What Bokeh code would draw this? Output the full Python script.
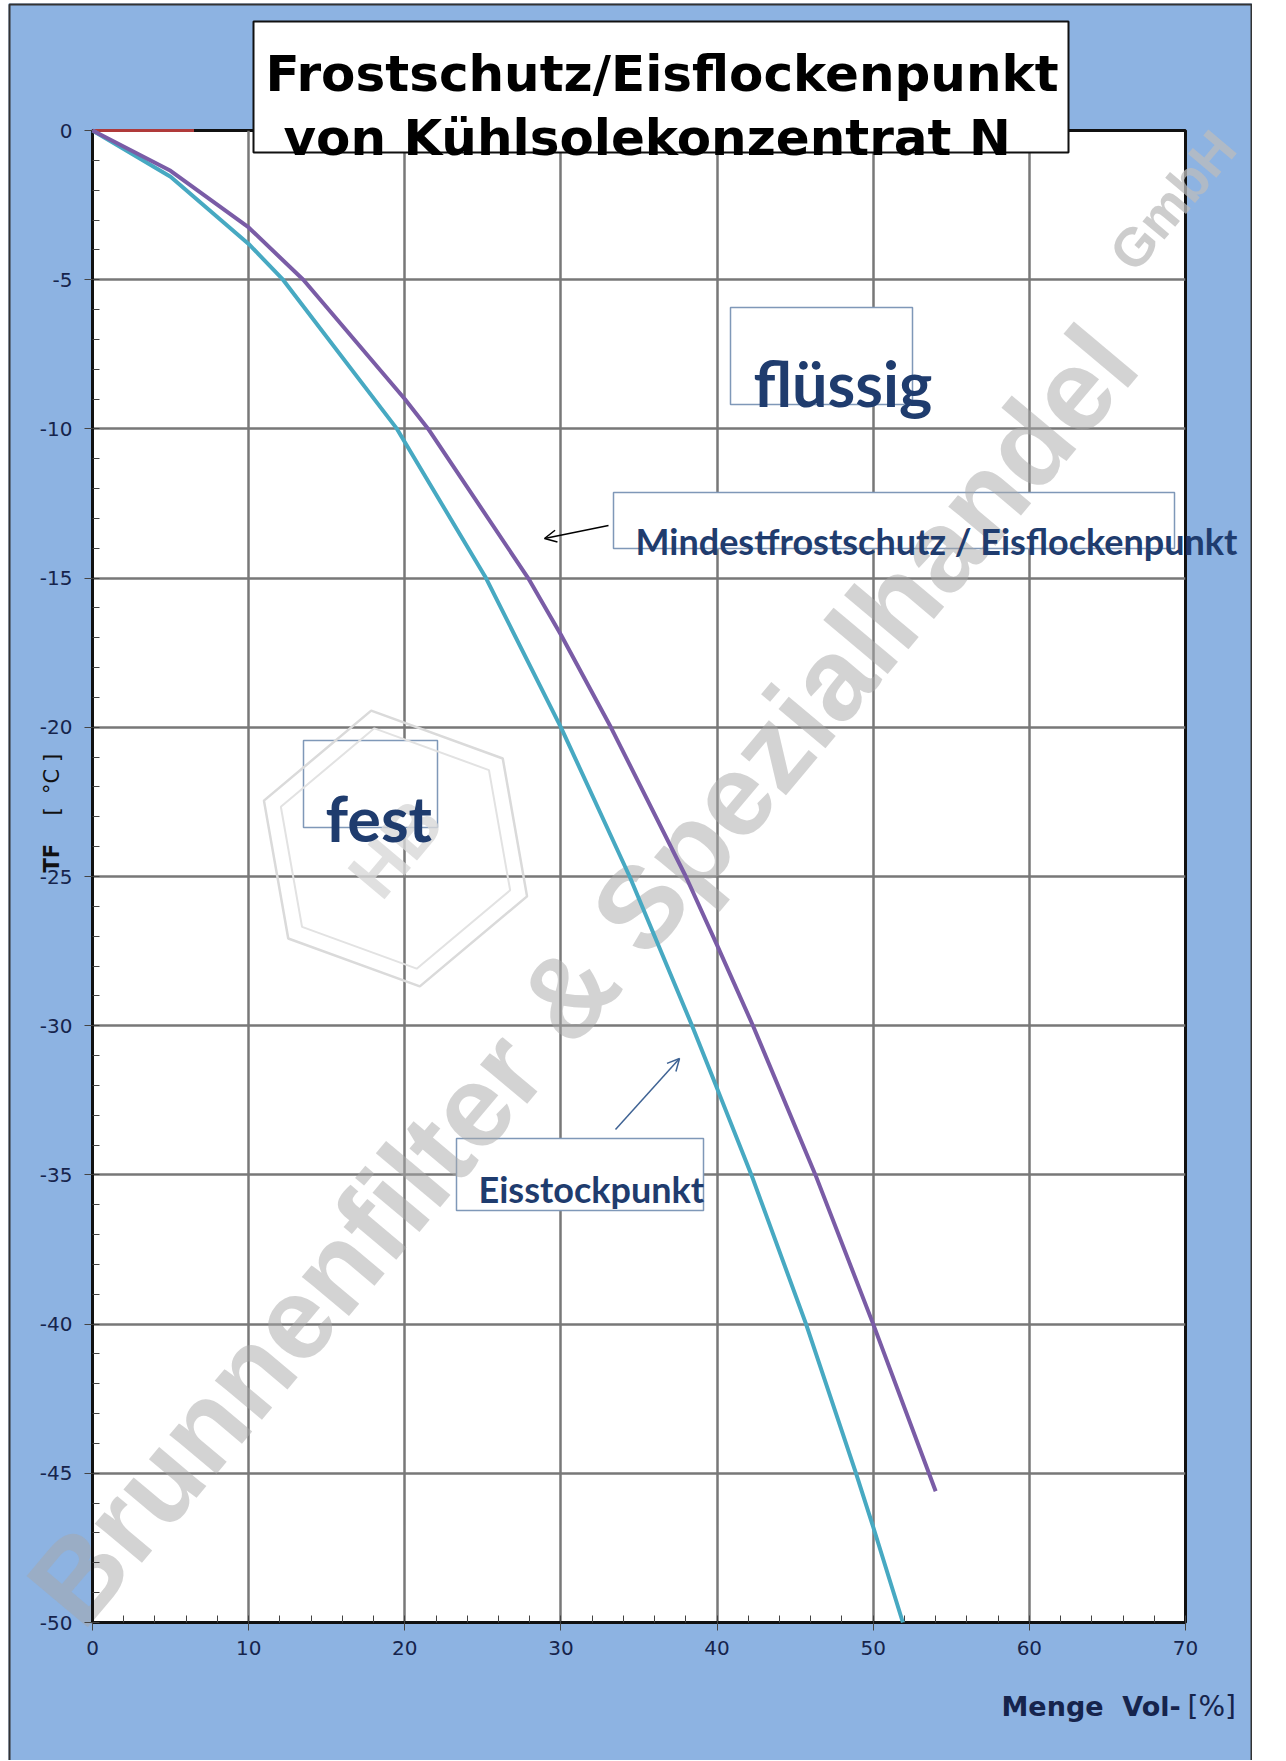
import math
from bokeh.plotting import figure
from bokeh.models import Range1d, SingleIntervalTicker, Arrow, OpenHead, NumeralTickFormatter
from bokeh.core.properties import value
from bokeh.embed import file_html
from bokeh.resources import INLINE

# ---------------- data ----------------
conc_mindest = [0, 5, 10, 13.5, 20, 21.5, 27.9, 30, 33.2, 38.0, 40, 42.3, 46.3, 50, 54]
temp_mindest = [0, -1.35, -3.25, -5, -9.0, -10, -15, -16.9, -20, -25, -27.3, -30, -35, -40, -45.6]
conc_eisstock = [0, 5, 10, 12.2, 19.5, 25.2, 30, 34.4, 38.4, 40, 42.2, 45.7, 48.9, 50, 51.9]
temp_eisstock = [0, -1.55, -3.8, -5, -10, -15, -20, -25, -30, -32.1, -35, -40, -45, -46.8, -50]
conc_red = [0, 6.5]
temp_red = [0, 0]

x_tick_interval = 10
y_tick_interval = 5

# ---------------- layout (page pixels) ----------------
W, H = 1252, 1760
FRAME_L, FRAME_R, FRAME_T, FRAME_B = 92, 1185, 130, 1622
ML, MR, MT, MB = FRAME_L, W - FRAME_R, FRAME_T, H - FRAME_B
XMIN, XMAX, YMIN, YMAX = 0, 70, -50, 0


def px(xp):
    return XMIN + (xp - FRAME_L) * (XMAX - XMIN) / (FRAME_R - FRAME_L)


def py(yp):
    return YMAX - (yp - FRAME_T) * (YMAX - YMIN) / (FRAME_B - FRAME_T)


BG = "#8db3e2"
NAVY = "#1f3c6e"
TICKC = "#16244c"

p = figure(width=W, height=H, output_backend="svg", toolbar_location=None,
           x_range=Range1d(XMIN, XMAX), y_range=Range1d(YMIN, YMAX),
           min_border_left=ML, min_border_right=MR, min_border_top=MT,
           min_border_bottom=MB, background_fill_color="white",
           border_fill_color=BG)
p.outline_line_color = "#111111"
p.outline_line_width = 3

for ax in (p.xaxis[0], p.yaxis[0]):
    ax.axis_line_color = "#111111"
    ax.axis_line_width = 3
    ax.major_tick_out = 8
    ax.major_tick_in = 0
    ax.minor_tick_in = 7
    ax.minor_tick_out = 0
    ax.major_tick_line_color = "#444444"
    ax.minor_tick_line_color = "#444444"
    ax.major_label_text_font = "DejaVu Sans"
    ax.major_label_text_font_size = "20px"
    ax.major_label_text_color = TICKC

p.xaxis.ticker = SingleIntervalTicker(interval=x_tick_interval, num_minor_ticks=5)
p.yaxis.ticker = SingleIntervalTicker(interval=y_tick_interval, num_minor_ticks=5)
p.xaxis.formatter = NumeralTickFormatter(format="0")
p.yaxis.formatter = NumeralTickFormatter(format="0")
p.xaxis.major_label_standoff = 10
p.yaxis.major_label_standoff = 12
p.grid.grid_line_color = "#787878"
p.grid.grid_line_width = 2.5

# ---------------- white boxes inside the plot ----------------
bx_l = [730, 303, 613, 456]
bx_r = [912, 437, 1174, 703]
bx_t = [307, 740, 492, 1138]
bx_b = [404, 827, 548, 1210]
p.quad(left=[px(v) for v in bx_l], right=[px(v) for v in bx_r],
       top=[py(v) for v in bx_t], bottom=[py(v) for v in bx_b],
       fill_color="white", line_color="#7f98b8", line_width=1.5)

# ---------------- watermark (logo outline + text) ----------------
hx, hy, hr, hrot = 395, 848, 140, math.radians(20)
hex_x = [px(hx + hr * math.cos(hrot + k * math.pi / 3)) for k in range(6)]
hex_y = [py(hy + hr * math.sin(hrot + k * math.pi / 3)) for k in range(6)]
p.patch(hex_x, hex_y, fill_alpha=0, line_color="#dadada", line_width=2.5, level="guide")
hr2 = 122
hex_x2 = [px(hx + hr2 * math.cos(hrot + k * math.pi / 3)) for k in range(6)]
hex_y2 = [py(hy + hr2 * math.sin(hrot + k * math.pi / 3)) for k in range(6)]
p.patch(hex_x2, hex_y2, fill_alpha=0, line_color="#e2e2e2", line_width=2, level="guide")
p.text(x=[px(hx)], y=[py(hy)], text=["HB"], text_font=value("Liberation Sans"),
       text_font_style="bold", text_font_size=value("70px"), text_color="#d8d8d8",
       text_alpha=0.8, text_align="center", text_baseline="middle",
       angle=math.radians(50), level="guide")

wm_ang = math.radians(50)
p.text(x=[px(582)], y=[py(975)], text=["Brunnenfilter & Spezialhandel"],
       text_font=value("Liberation Sans"), text_font_style="bold",
       text_font_size=value("116px"), text_color="#a8a8a8", text_alpha=0.5,
       text_align="center", text_baseline="middle", angle=wm_ang, level="guide")
p.text(x=[px(1172)], y=[py(200)], text=["GmbH"],
       text_font=value("Liberation Sans"), text_font_style="bold",
       text_font_size=value("54px"), text_color="#bcbcbc", text_alpha=0.75,
       text_align="center", text_baseline="middle", angle=wm_ang, level="guide")

# ---------------- curves ----------------
p.line(conc_red, temp_red, line_color="#b03a3a", line_width=3, level="annotation")
p.line(conc_eisstock, temp_eisstock, line_color="#47a9c2", line_width=4, level="annotation")
p.line(conc_mindest, temp_mindest, line_color="#7a5ca6", line_width=4, level="annotation")

# ---------------- notes ----------------
def note(xp, yp, txt, size, color=NAVY, font="Lato", bold=True, align="left", angle=0.0):
    p.text(x=[px(xp)], y=[py(yp)], text=[txt], text_font=value(font),
           text_font_style="bold" if bold else "normal", text_font_size=value(size),
           text_color=color, text_align=align, text_baseline="alphabetic",
           angle=angle, level="overlay")

note(753, 382, "flüssig", "63px")
note(325, 817, "fest", "63px")
note(635, 540, "Mindestfrostschutz / Eisflockenpunkt", "36px")
note(478, 1188, "Eisstockpunkt", "36px")

p.add_layout(Arrow(x_start=px(608), y_start=py(525), x_end=px(544), y_end=py(538),
                   line_color="black", line_width=1.5,
                   end=OpenHead(size=12, line_color="black", line_width=1.5)))
p.add_layout(Arrow(x_start=px(615), y_start=py(1129), x_end=px(679), y_end=py(1058),
                   line_color="#3f6394", line_width=1.5,
                   end=OpenHead(size=12, line_color="#3f6394", line_width=1.5)))

# ---------------- title box ----------------
p.quad(left=[px(253)], right=[px(1068)], top=[py(21)], bottom=[py(152)],
       fill_color="white", line_color="#111111", line_width=2, level="overlay")
note(265, 73, "Frostschutz/Eisflockenpunkt", "50px", color="black", font="DejaVu Sans")
note(283, 137, "von Kühlsolekonzentrat N", "50px", color="black", font="DejaVu Sans")

# ---------------- axis titles ----------------
note(1001, 1706, "Menge\u00a0\u00a0Vol-", "27px", color=TICKC, font="DejaVu Sans")
note(1187, 1706, "[%]", "28px", color=TICKC, font="DejaVu Sans", bold=False)
note(51, 872, "TF", "21px", color="#111111", font="DejaVu Sans", angle=math.pi / 2)
note(51, 815, "[\u00a0\u00a0°C\u00a0]", "21px", color="#111111", font="DejaVu Sans",
     bold=False, angle=math.pi / 2)

# page-white strips and outer frame line around the blue area
p.quad(left=[px(-5), px(-5)], right=[px(8), px(W + 5)], top=[py(-5), py(-5)],
       bottom=[py(H + 5), py(3)], fill_color="white", line_alpha=0, level="overlay")
p.quad(left=[px(9)], right=[px(1251)], top=[py(4)], bottom=[py(H + 10)],
       fill_alpha=0, line_color="#333333", line_width=2, level="overlay")

open("out.html", "w").write(file_html(p, INLINE))
